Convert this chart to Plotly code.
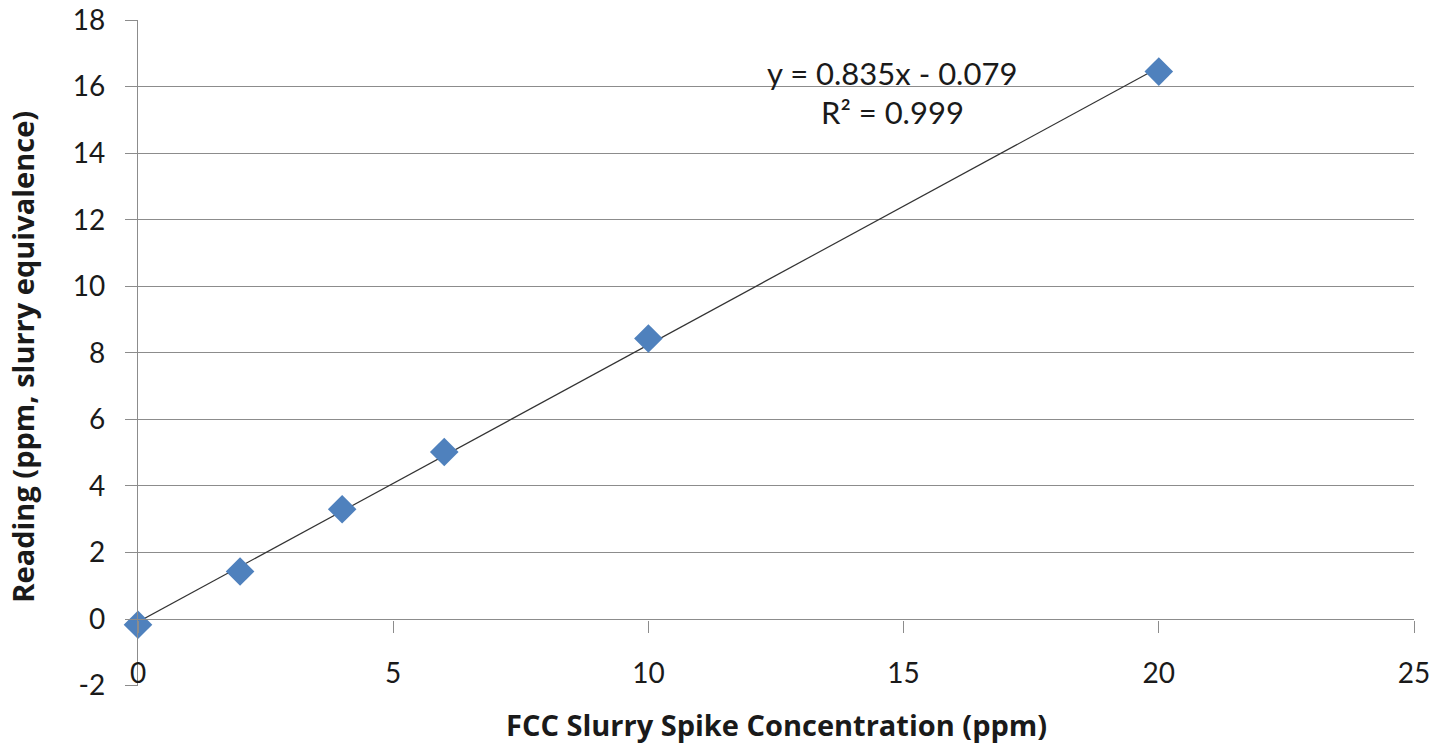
import numpy as np
import plotly.graph_objects as go

# Data
spike_ppm = [0, 2, 4, 6, 10, 20]
reading_ppm = [-0.17, 1.43, 3.3, 5.02, 8.43, 16.45]
eq_text = "y = 0.835x - 0.079"
r2_text = "R² = 0.999"
x_ticks = [0, 5, 10, 15, 20, 25]
y_ticks = [-2, 0, 2, 4, 6, 8, 10, 12, 14, 16, 18]
y_ticktext = ["-2", "0", "2", "4", "6", "8", "10", "12", "14", "16", "18"]
x_title = "FCC Slurry Spike Concentration (ppm)"
y_title = "Reading (ppm, slurry equivalence)"

slope, intercept = np.polyfit(spike_ppm, reading_ppm, 1)
fit_x = [min(spike_ppm), max(spike_ppm)]
fit_y = [slope * v + intercept for v in fit_x]

FONT = "Lato"
TITLE_FONT = "Open Sans"
GRID = "#8c8c8c"
TXT = "#1a1a1a"

fig = go.Figure()
fig.add_trace(go.Scatter(x=fit_x, y=fit_y, mode="lines",
                         line=dict(color="#333333", width=1.2),
                         showlegend=False, hoverinfo="skip"))
fig.add_trace(go.Scatter(x=spike_ppm, y=reading_ppm, mode="markers",
                         marker=dict(symbol="diamond", size=22, color="#4F81BD",
                                     line=dict(width=0)),
                         cliponaxis=False, showlegend=False))

fig.add_annotation(x=14.78, y=16.42, xref="x", yref="y", text=eq_text,
                   showarrow=False, font=dict(family=FONT, size=31, color=TXT))
fig.add_annotation(x=14.78, y=15.24, xref="x", yref="y", text=r2_text,
                   showarrow=False, font=dict(family=FONT, size=31, color=TXT))

# axis titles
fig.add_annotation(x=0.5, y=-0.0905, xref="paper", yref="paper", text="<b>" + x_title + "</b>",
                   showarrow=False, xanchor="center", yanchor="bottom",
                   font=dict(family=TITLE_FONT, size=29, color=TXT))
fig.add_annotation(x=-0.0905, y=0.4938, xref="paper", yref="paper", text="<b>" + y_title + "</b>",
                   showarrow=False, xanchor="center", yanchor="middle", textangle=-90,
                   font=dict(family=TITLE_FONT, size=29, color=TXT))

fig.update_layout(
    width=1441, height=748,
    margin=dict(l=137.5, r=26.7, t=20, b=62.3),
    paper_bgcolor="white", plot_bgcolor="white",
    font=dict(family=FONT, color=TXT),
    xaxis=dict(range=[0, 25], tickvals=x_ticks, showgrid=False, zeroline=False,
               showline=True, linecolor=GRID, linewidth=1.3, automargin=False,
               ticks="outside", ticklen=12, tickcolor=GRID, tickwidth=1.3,
               anchor="free", position=0.1, ticklabelstandoff=17,
               ticklabeloverflow="allow",
               tickfont=dict(family=FONT, size=28, color=TXT)),
    yaxis=dict(range=[-2.01, 18], tickvals=y_ticks, ticktext=y_ticktext,
               showgrid=True, gridcolor=GRID, gridwidth=1.3, zeroline=False,
               showline=True, linecolor=GRID, linewidth=1.3, automargin=False,
               ticks="outside", ticklen=12, tickcolor=GRID, tickwidth=1.3,
               ticklabelstandoff=14, ticklabeloverflow="allow",
               tickfont=dict(family=FONT, size=28, color=TXT)),
)

fig.write_html("out.html", config={"displayModeBar": False},
               post_script="document.body.style.margin='0';")
